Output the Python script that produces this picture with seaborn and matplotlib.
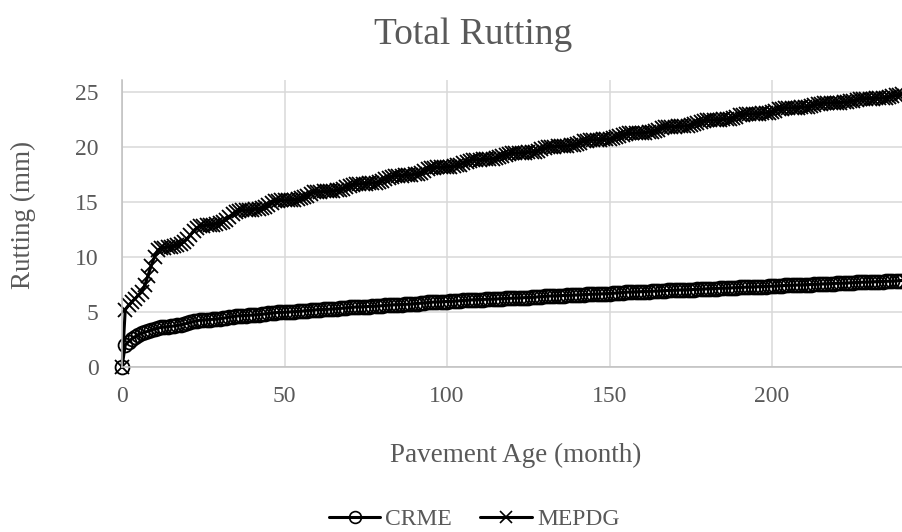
import numpy as np
import pandas as pd
import seaborn as sns
import matplotlib
matplotlib.use("Agg")
import matplotlib.pyplot as plt
from matplotlib.lines import Line2D

# ---------------- data ----------------
months = list(range(0, 241))

crme = [
    0, 2.0, 2.3, 2.55, 2.75, 2.9, 3.05, 3.15, 3.25, 3.35, 3.45, 3.52, 3.6,
    3.63, 3.65, 3.68, 3.72, 3.77, 3.82, 3.89, 3.96, 4.05, 4.13, 4.20, 4.25,
    4.27, 4.28, 4.30, 4.33, 4.35, 4.39, 4.43, 4.47, 4.53, 4.58, 4.62, 4.65,
    4.66, 4.67, 4.69, 4.71, 4.73, 4.75, 4.78, 4.82, 4.86, 4.90, 4.93, 4.95,
    4.96, 4.97, 4.98, 5.00, 5.02, 5.04, 5.06, 5.09, 5.12, 5.16, 5.18, 5.20,
    5.21, 5.22, 5.23, 5.25, 5.27, 5.29, 5.31, 5.34, 5.37, 5.41, 5.43, 5.45,
    5.46, 5.47, 5.48, 5.49, 5.50, 5.52, 5.54, 5.56, 5.59, 5.61, 5.64, 5.65,
    5.66, 5.67, 5.68, 5.70, 5.72, 5.74, 5.76, 5.79, 5.82, 5.86, 5.88, 5.90,
    5.91, 5.92, 5.93, 5.94, 5.95, 5.97, 5.99, 6.01, 6.04, 6.06, 6.09, 6.10,
    6.11, 6.11, 6.12, 6.13, 6.14, 6.15, 6.17, 6.18, 6.20, 6.22, 6.24, 6.25,
    6.26, 6.27, 6.28, 6.29, 6.30, 6.32, 6.34, 6.36, 6.39, 6.41, 6.44, 6.45,
    6.46, 6.46, 6.47, 6.48, 6.49, 6.50, 6.52, 6.53, 6.55, 6.57, 6.59, 6.60,
    6.61, 6.62, 6.63, 6.64, 6.65, 6.67, 6.69, 6.71, 6.74, 6.76, 6.79, 6.80,
    6.81, 6.81, 6.82, 6.83, 6.84, 6.85, 6.87, 6.88, 6.90, 6.92, 6.94, 6.95,
    6.96, 6.96, 6.97, 6.98, 6.99, 7.00, 7.02, 7.03, 7.05, 7.07, 7.09, 7.10,
    7.11, 7.11, 7.12, 7.13, 7.14, 7.15, 7.17, 7.18, 7.20, 7.22, 7.24, 7.25,
    7.26, 7.26, 7.27, 7.28, 7.29, 7.30, 7.32, 7.33, 7.35, 7.37, 7.39, 7.40,
    7.41, 7.41, 7.42, 7.43, 7.44, 7.45, 7.47, 7.48, 7.50, 7.52, 7.54, 7.55,
    7.56, 7.56, 7.57, 7.58, 7.59, 7.60, 7.62, 7.63, 7.65, 7.67, 7.69, 7.70,
    7.71, 7.71, 7.72, 7.73, 7.74, 7.75, 7.77, 7.78, 7.80, 7.82, 7.84, 7.85,
]

mepdg = [
    0, 5.2, 5.6, 5.9, 6.2, 6.5, 6.8, 7.4, 8.3, 9.2, 10.0, 10.6, 10.8,
    10.84, 10.88, 10.92, 10.98, 11.06, 11.18, 11.34, 11.60, 11.96, 12.36, 12.64, 12.80,
    12.83, 12.86, 12.88, 12.93, 12.98, 13.07, 13.18, 13.36, 13.61, 13.89, 14.09, 14.20,
    14.22, 14.24, 14.25, 14.28, 14.32, 14.37, 14.44, 14.56, 14.72, 14.90, 15.03, 15.10,
    15.12, 15.13, 15.15, 15.17, 15.20, 15.25, 15.32, 15.42, 15.56, 15.72, 15.84, 15.90,
    15.91, 15.93, 15.94, 15.96, 15.99, 16.03, 16.09, 16.18, 16.31, 16.45, 16.54, 16.60,
    16.62, 16.63, 16.65, 16.67, 16.70, 16.74, 16.80, 16.90, 17.04, 17.19, 17.29, 17.35,
    17.37, 17.38, 17.40, 17.42, 17.45, 17.49, 17.55, 17.65, 17.79, 17.94, 18.04, 18.10,
    18.11, 18.13, 18.14, 18.16, 18.19, 18.23, 18.29, 18.38, 18.51, 18.65, 18.74, 18.80,
    18.81, 18.82, 18.84, 18.85, 18.88, 18.91, 18.96, 19.04, 19.15, 19.27, 19.35, 19.40,
    19.41, 19.42, 19.44, 19.45, 19.48, 19.51, 19.56, 19.64, 19.75, 19.87, 19.95, 20.00,
    20.01, 20.02, 20.04, 20.05, 20.08, 20.11, 20.16, 20.24, 20.35, 20.47, 20.55, 20.60,
    20.61, 20.62, 20.64, 20.65, 20.68, 20.71, 20.76, 20.84, 20.95, 21.07, 21.15, 21.20,
    21.21, 21.22, 21.24, 21.25, 21.28, 21.31, 21.36, 21.44, 21.55, 21.67, 21.75, 21.80,
    21.81, 21.82, 21.84, 21.85, 21.88, 21.91, 21.96, 22.04, 22.15, 22.27, 22.35, 22.40,
    22.41, 22.42, 22.43, 22.45, 22.47, 22.50, 22.55, 22.62, 22.72, 22.83, 22.91, 22.95,
    22.96, 22.97, 22.98, 23.00, 23.02, 23.05, 23.10, 23.17, 23.27, 23.38, 23.46, 23.50,
    23.51, 23.52, 23.53, 23.54, 23.56, 23.59, 23.62, 23.68, 23.76, 23.85, 23.91, 23.95,
    23.96, 23.97, 23.97, 23.99, 24.00, 24.03, 24.06, 24.11, 24.18, 24.26, 24.32, 24.35,
    24.36, 24.37, 24.37, 24.39, 24.40, 24.43, 24.46, 24.51, 24.58, 24.66, 24.72, 24.75,
]

series_names = ["CRME", "MEPDG"]
x_ticks = [0, 50, 100, 150, 200]
y_ticks = [0, 5, 10, 15, 20, 25]
title_text = "Total Rutting"
x_label = "Pavement Age (month)"
y_label = "Rutting (mm)"

# ---------------- styling ----------------
sns.set_theme(style="white")
plt.rcParams['font.family'] = ['Liberation Serif', 'DejaVu Serif']
TEXT = "#595959"
GRID = "#d9d9d9"

W, H = 902, 532
fig = plt.figure(figsize=(W / 100, H / 100), dpi=100)
ax = fig.add_axes([122 / W, 1 - 367 / H, 780 / W, (367 - 80) / H])

df = pd.DataFrame({"Month": months, "CRME": crme, "MEPDG": mepdg})

MS = 10
common = dict(color="black", linewidth=2.2, markersize=MS,
              markerfacecolor="none", markeredgecolor="black",
              markeredgewidth=1.3, ax=ax, legend=False, clip_on=False)
sns.lineplot(data=df, x="Month", y="CRME", marker="o", **common)
sns.lineplot(data=df, x="Month", y="MEPDG", marker="x", **common)

ax.set_xlim(0, 240)
ax.set_ylim(0, 26.05)
ax.set_xticks(x_ticks)
ax.set_yticks(y_ticks)
ax.grid(True, color=GRID, linewidth=1.1)
ax.set_axisbelow(True)
for s in ["top", "right"]:
    ax.spines[s].set_visible(False)
for s in ["left", "bottom"]:
    ax.spines[s].set_color("#bfbfbf")
    ax.spines[s].set_linewidth(1.1)
ax.tick_params(axis="both", length=0, labelsize=17, labelcolor=TEXT)
ax.tick_params(axis="x", pad=14)
ax.tick_params(axis="y", pad=17)
ax.set_xlabel("")
ax.set_ylabel("")

fig.text(473 / W, 1 - 44 / H, title_text, ha="center", va="baseline",
         fontsize=27, color=TEXT)
fig.text(516 / W, 1 - 455 / H, x_label, ha="center", va="center",
         fontsize=19.5, color=TEXT)
fig.text(23 / W, 1 - 215 / H, y_label, ha="center", va="center",
         rotation=90, fontsize=19.5, color=TEXT)

handles = [
    Line2D([0], [0], color="black", lw=2.2, marker="o", markersize=8.5,
           markerfacecolor="none", markeredgecolor="black", markeredgewidth=1.2),
    Line2D([0], [0], color="black", lw=2.2, marker="x", markersize=8.5,
           markeredgecolor="black", markeredgewidth=1.2),
]
leg = fig.legend(handles, series_names, loc="center",
                 bbox_to_anchor=(474 / W, 1 - 519 / H), ncol=2, frameon=False,
                 fontsize=17, handlelength=2.2, handletextpad=0.2,
                 columnspacing=1.2)
for t in leg.get_texts():
    t.set_color(TEXT)

fig.savefig("out.png", dpi=100)
